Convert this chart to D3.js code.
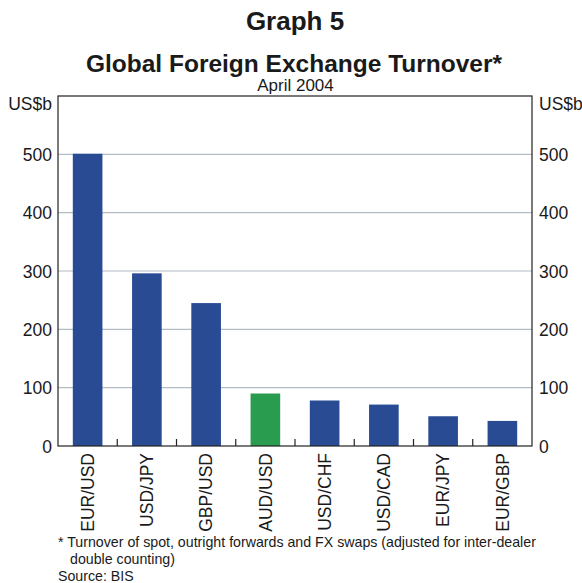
<!DOCTYPE html>
<html>
<head>
<meta charset="utf-8">
<script src="https://cdn.jsdelivr.net/npm/d3@7"></script>
<style>
  html, body { margin: 0; padding: 0; background: #fff; }
  svg text { font-family: "Liberation Sans", Arial, Helvetica, sans-serif; fill: #1a1a1a; }
</style>
</head>
<body>
<svg id="chart" width="582" height="583"></svg>
<script>
const categories = ["EUR/USD", "USD/JPY", "GBP/USD", "AUD/USD", "USD/CHF", "USD/CAD", "EUR/JPY", "EUR/GBP"];
const values = [501, 296, 245, 90, 78, 71, 51, 43];
const highlight = ["AUD/USD"];
const yTicks = [0, 100, 200, 300, 400, 500];
const titleText = "Graph 5";
const subtitleText = "Global Foreign Exchange Turnover*";
const dateText = "April 2004";
const unitText = "US$b";
const footnotes = ["* Turnover of spot, outright forwards and FX swaps (adjusted for inter-dealer", "double counting)"];
const sourceText = "Source: BIS";

const svg = d3.select("#chart");
const m = { left: 58, right: 532, top: 96, bottom: 446 };

const x = d3.scaleBand().domain(categories).range([m.left, m.right]).paddingInner(0.5).paddingOuter(0.25);
const y = d3.scaleLinear().domain([0, 600]).range([m.bottom, m.top]);

// gridlines
svg.append("g").selectAll("line").data(yTicks.filter(d => d > 0)).join("line")
  .attr("x1", m.left).attr("x2", m.right)
  .attr("y1", d => y(d)).attr("y2", d => y(d))
  .attr("stroke", "#b3bbc3").attr("stroke-width", 1.2);

// bars
svg.append("g").selectAll("rect").data(categories).join("rect")
  .attr("x", d => x(d)).attr("width", x.bandwidth())
  .attr("y", (d, i) => y(values[i])).attr("height", (d, i) => y(0) - y(values[i]))
  .attr("fill", d => highlight.includes(d) ? "#2a9c4f" : "#294b94");

// frame
svg.append("rect").attr("x", m.left).attr("y", m.top)
  .attr("width", m.right - m.left).attr("height", m.bottom - m.top)
  .attr("fill", "none").attr("stroke", "#222").attr("stroke-width", 1.2);

// inner category ticks between bars
const step = x.step();
svg.append("g").selectAll("line").data(categories.slice(1)).join("line")
  .attr("x1", d => x(d) - step * 0.25).attr("x2", d => x(d) - step * 0.25)
  .attr("y1", m.bottom).attr("y2", m.bottom - 7)
  .attr("stroke", "#222").attr("stroke-width", 1.2);

// y axes using d3 axis
const axL = svg.append("g").attr("transform", `translate(${m.left},0)`)
  .call(d3.axisLeft(y).tickValues(yTicks).tickSize(0).tickPadding(6));
const axR = svg.append("g").attr("transform", `translate(${m.right},0)`)
  .call(d3.axisRight(y).tickValues(yTicks).tickSize(0).tickPadding(7));
[axL, axR].forEach(a => {
  a.select(".domain").remove();
  a.selectAll("text").attr("font-size", 17.5).attr("fill", "#1a1a1a")
    .attr("font-family", '"Liberation Sans", Arial, sans-serif').attr("dy", "0.36em");
});

// unit labels
svg.append("text").attr("x", 52).attr("y", 110).attr("text-anchor", "end").attr("font-size", 17.5).text(unitText);
svg.append("text").attr("x", 539).attr("y", 110).attr("text-anchor", "start").attr("font-size", 17.5).text(unitText);

// category labels
svg.append("g").selectAll("text").data(categories).join("text")
  .attr("transform", d => `translate(${x(d) + x.bandwidth() / 2},453) rotate(-90)`)
  .attr("text-anchor", "end").attr("dy", "0.36em").attr("font-size", 17.5)
  .text(d => d);

// titles
svg.append("text").attr("x", 295).attr("y", 30).attr("text-anchor", "middle")
  .attr("font-size", 26).attr("font-weight", "bold").text(titleText);
svg.append("text").attr("x", 294).attr("y", 71.5).attr("text-anchor", "middle")
  .attr("font-size", 24.5).attr("font-weight", "bold").text(subtitleText);
svg.append("text").attr("x", 295.5).attr("y", 90.5).attr("text-anchor", "middle")
  .attr("font-size", 17).text(dateText);

// footnotes
svg.append("text").attr("x", 58).attr("y", 547).attr("font-size", 14.2).text(footnotes[0]);
svg.append("text").attr("x", 70).attr("y", 564).attr("font-size", 14.2).text(footnotes[1]);
svg.append("text").attr("x", 58).attr("y", 581).attr("font-size", 14.2).text(sourceText);
</script>
</body>
</html>
